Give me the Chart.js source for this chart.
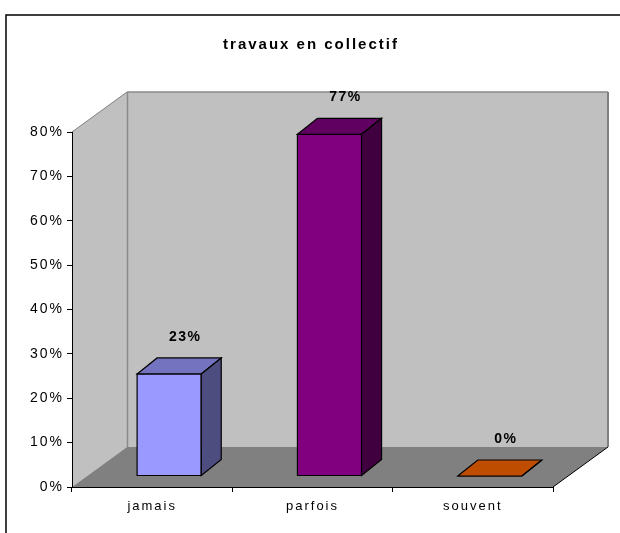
<!DOCTYPE html>
<html>
<head>
<meta charset="utf-8">
<script src="https://cdn.jsdelivr.net/npm/chart.js@4/dist/chart.umd.min.js"></script>
<style>
    html, body { margin: 0; padding: 0; background: #fff; }
</style>
</head>
<body>
<canvas id="chart" width="620" height="533"></canvas>
<script>
// data
const categories = ['jamais', 'parfois', 'souvent'];
const shares = [0.23, 0.77, 0.00];
const barColors = ['#9999ff', '#800080', '#ff6600'];
const titleText = 'travaux en collectif';
const yMax = 0.8;
const yStep = 0.1;

// fake 3d: depth of the walls / floor and of the boxes
const DX = 55, DY = -40;
const BAR_DX = 17, BAR_DY = -11;
const BOX_DX = 20, BOX_DY = -16;
const SPACING = '2px';

function shade(hex, f) {
    const n = parseInt(hex.slice(1), 16);
    const r = Math.round(((n >> 16) & 255) * f);
    const g = Math.round(((n >> 8) & 255) * f);
    const b = Math.round((n & 255) * f);
    return `rgb(${r}, ${g}, ${b})`;
}

function poly(ctx, pts, fill, stroke, lw = 1) {
    ctx.beginPath();
    ctx.moveTo(pts[0][0], pts[0][1]);
    for (let i = 1; i < pts.length; i++) ctx.lineTo(pts[i][0], pts[i][1]);
    ctx.closePath();
    if (fill) {
        ctx.fillStyle = fill;
        ctx.fill();
    }
    if (stroke) {
        ctx.strokeStyle = stroke;
        ctx.lineWidth = lw;
        ctx.stroke();
    }
}

function line(ctx, x0, y0, x1, y1, color, lw = 1) {
    ctx.beginPath();
    ctx.moveTo(x0, y0);
    ctx.lineTo(x1, y1);
    ctx.strokeStyle = color;
    ctx.lineWidth = lw;
    ctx.stroke();
}

const box3d = {
    id: 'box3d',
    beforeDraw(chart) {
        const ctx = chart.ctx;
        const { left: L, right: R, top: T, bottom: B } = chart.chartArea;
        ctx.save();
        ctx.fillStyle = '#fff';
        ctx.fillRect(0, 0, chart.width, chart.height);

        // frame of the whole chart, runs off the right and bottom
        ctx.strokeStyle = '#000';
        ctx.lineWidth = 1.5;
        ctx.strokeRect(6, 15, chart.width + 20, chart.height + 20);

        // side wall, back wall, floor
        poly(ctx, [[L, T], [L + DX, T + DY], [L + DX, B + DY], [L, B]], '#c0c0c0');
        poly(ctx, [[L + DX, T + DY], [R + DX, T + DY], [R + DX, B + DY], [L + DX, B + DY]], '#c0c0c0');
        line(ctx, L, T, L + DX, T + DY, '#808080');
        line(ctx, L + DX, T + DY, R + DX, T + DY, '#8a8a8a', 1.5);
        line(ctx, L + DX + 0.5, T + DY, L + DX + 0.5, B + DY, '#8a8a8a', 1.5);
        line(ctx, R + DX, T + DY, R + DX, B + DY, '#808080', 2);
        poly(ctx, [[L, B], [R, B], [R + DX, B + DY], [L + DX, B + DY]], '#808080');
        line(ctx, R, B, R + DX, B + DY, '#000');
        ctx.restore();

        ctx.letterSpacing = SPACING;
    },
    afterDatasetsDraw(chart) {
        const ctx = chart.ctx;
        const meta = chart.getDatasetMeta(0);
        ctx.save();
        ctx.lineJoin = 'miter';
        meta.data.forEach((el, i) => {
            const x0 = el.x - el.width / 2 + BAR_DX;
            const x1 = el.x + el.width / 2 + BAR_DX;
            const yt = el.y + BAR_DY;
            const yb = el.base + BAR_DY;
            const c = barColors[i];
            poly(ctx, [[x0, yt], [x1, yt], [x1, yb], [x0, yb]], c, '#000', 1.2);
            poly(ctx, [[x0, yt], [x0 + BOX_DX, yt + BOX_DY], [x1 + BOX_DX, yt + BOX_DY], [x1, yt]], shade(c, 0.75), '#000', 1.2);
            poly(ctx, [[x1, yt], [x1 + BOX_DX, yt + BOX_DY], [x1 + BOX_DX, yb + BOX_DY], [x1, yb]], shade(c, 0.5), '#000', 1.2);

            // value label above the box
            ctx.letterSpacing = '1.5px';
            ctx.font = "bold 14px 'Liberation Sans', Arial, sans-serif";
            ctx.fillStyle = '#000';
            ctx.textAlign = 'center';
            ctx.textBaseline = 'middle';
            const lx = (x0 + x1) / 2 + BOX_DX / 2 + 6;
            const ly = yt + BOX_DY / 2 - 29;
            ctx.fillText(Math.round(shares[i] * 100) + '%', lx, ly);
        });
        ctx.restore();
    },
    afterDraw(chart) {
        const ctx = chart.ctx;
        ctx.save();
        ctx.letterSpacing = '2px';
        ctx.font = "bold 15px 'Liberation Sans', Arial, sans-serif";
        ctx.fillStyle = '#000';
        ctx.textAlign = 'center';
        ctx.textBaseline = 'middle';
        ctx.fillText(titleText, 311, 45);
        ctx.restore();
    }
};

Chart.defaults.font.family = "'Liberation Sans', Arial, sans-serif";
Chart.defaults.color = '#000';

const ctx = document.getElementById('chart').getContext('2d');
const chart = new Chart(ctx, {
    type: 'bar',
    data: {
        labels: categories,
        datasets: [
            {
                data: shares,
                backgroundColor: 'rgba(0, 0, 0, 0)',
                borderWidth: 0,
                barPercentage: 0.4,
                categoryPercentage: 1.0,
            }
        ]
    },
    options: {
        responsive: false,
        animation: false,
        events: [],
        layout: {
            padding: { top: 132, right: 67, left: 0, bottom: 0 }
        },
        plugins: {
            legend: { display: false },
            title: { display: false },
            tooltip: { enabled: false },
        },
        scales: {
            x: {
                grid: {
                    display: true,
                    drawOnChartArea: false,
                    drawTicks: true,
                    tickLength: 5,
                    color: '#000',
                    offset: true,
                },
                border: { display: true, color: '#000', width: 1 },
                ticks: {
                    color: '#000',
                    font: { size: 13 },
                    padding: 7,
                    maxRotation: 0,
                },
                afterFit: (scale) => { scale.height = 46; },
            },
            y: {
                min: 0,
                max: yMax,
                grid: {
                    display: true,
                    drawOnChartArea: false,
                    drawTicks: true,
                    tickLength: 5,
                    color: '#000',
                },
                border: { display: true, color: '#000', width: 1 },
                ticks: {
                    stepSize: yStep,
                    color: '#000',
                    font: { size: 14 },
                    padding: 3,
                    callback: (v) => Math.round(v * 100) + '%',
                },
                afterFit: (scale) => { scale.width = 72; },
            }
        }
    },
    plugins: [box3d],
});
</script>
</body>
</html>
